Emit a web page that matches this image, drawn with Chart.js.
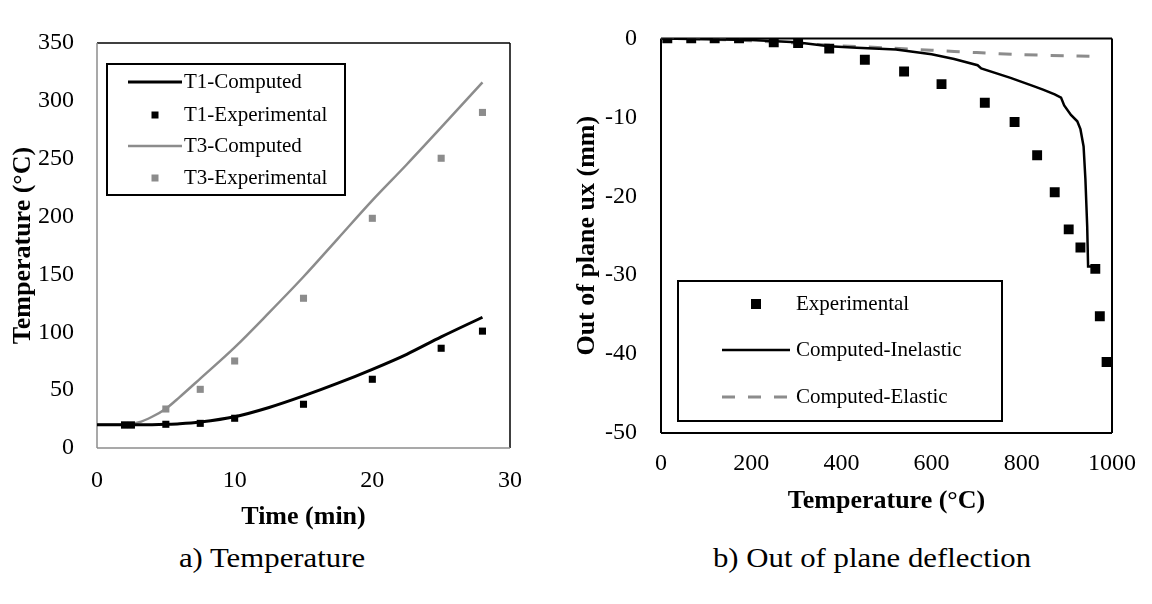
<!DOCTYPE html>
<html>
<head>
<meta charset="utf-8">
<script src="https://cdn.jsdelivr.net/npm/chart.js@4.4.0/dist/chart.umd.min.js"></script>
<style>
  body { margin: 0; background: #fff; width: 1152px; height: 604px; position: relative; overflow: hidden; }
  canvas { position: absolute; top: 0; }
  .cap { position: absolute; top: 542px; font: 28px "Liberation Serif", serif; color: #000; transform: translateX(-50%) scaleX(1.1); white-space: nowrap; }
</style>
</head>
<body>
<canvas id="left" width="560" height="540" style="left:0"></canvas>
<canvas id="right" width="592" height="540" style="left:560px"></canvas>
<div class="cap" style="left:272px">a) Temperature</div>
<div class="cap" style="left:872px">b) Out of plane deflection</div>
<script>
// a) temperature vs time
const timeComputed = [0, 2, 3, 4, 5, 6, 7.5, 10, 12.5, 15, 17.5, 20, 22.5, 25, 28];
const t1Computed = [20, 20, 20, 20.2, 20.5, 21, 22.5, 27, 35, 45, 56, 68, 81, 96, 113];
const t3Computed = [20, 20, 22, 27, 34, 44, 60, 87, 117, 148, 181, 214, 245, 277, 316];
const timeExp = [2, 2.5, 5, 7.5, 10, 15, 20, 25, 28];
const t1Exp = [20, 20, 20.5, 21.3, 25.7, 37.8, 59.4, 86.2, 101];
const t3Exp = [19.5, 19.5, 33.7, 50.7, 75.2, 129.4, 198.5, 250.4, 290];

// b) out of plane deflection vs temperature
const tempExp = [14, 67, 119, 173, 250, 304, 373, 452, 539, 622, 718, 784, 834, 873, 904, 930, 963, 973, 988];
const uxExp = [0, 0, 0, 0, -0.5, -0.6, -1.3, -2.7, -4.2, -5.8, -8.15, -10.6, -14.8, -19.5, -24.2, -26.5, -29.2, -35.2, -41];
const tempInelastic = [0, 100, 200, 300, 373, 434, 521, 600, 650, 702, 710, 775, 826, 847, 873, 887, 894, 909, 923, 930, 937, 941, 945, 947, 956];
const uxInelastic = [0, -0.1, -0.2, -0.5, -1.0, -1.2, -1.4, -2.0, -2.6, -3.4, -3.8, -5.0, -6.05, -6.5, -7.1, -7.5, -8.5, -9.7, -10.5, -11.5, -13.7, -17.8, -23.8, -28.9, -28.9];
const tempElastic = [0, 100, 200, 300, 400, 500, 600, 700, 800, 900, 950];
const uxElastic = [0, -0.1, -0.3, -0.6, -0.95, -1.2, -1.5, -1.8, -2.05, -2.2, -2.25];

const GREY = "#8c8c8c";
Chart.defaults.font.family = "'Liberation Serif', 'Times New Roman', serif";
Chart.defaults.color = "#000";

const pts = (xs, ys) => xs.map((x, i) => ({ x: x, y: ys[i] }));
const plain = v => String(v);

// plot frame, one colour per side
const frameBox = {
  id: "frameBox",
  beforeDatasetsDraw(chart, args, opts) {
    const a = chart.chartArea, ctx = chart.ctx;
    const sides = [
      [a.left, a.top, a.right, a.top, opts.top],
      [a.right, a.top, a.right, a.bottom, opts.right],
      [a.left, a.bottom, a.right, a.bottom, opts.bottom],
      [a.left, a.top, a.left, a.bottom, opts.left],
    ];
    ctx.save();
    ctx.lineWidth = opts.width;
    sides.forEach(s => {
      ctx.strokeStyle = s[4];
      ctx.beginPath();
      ctx.moveTo(s[0], s[1]);
      ctx.lineTo(s[2], s[3]);
      ctx.stroke();
    });
    ctx.restore();
  }
};

// boxed legend inside the plot
const boxLegend = {
  id: "boxLegend",
  afterDraw(chart, args, opts) {
    const ctx = chart.ctx;
    ctx.save();
    ctx.fillStyle = "#fff";
    ctx.fillRect(opts.x, opts.y, opts.w, opts.h);
    ctx.strokeStyle = "#000";
    ctx.lineWidth = 2;
    ctx.strokeRect(opts.x, opts.y, opts.w, opts.h);
    ctx.font = opts.font;
    ctx.textBaseline = "middle";
    chart.data.datasets.forEach((ds, i) => {
      const y = opts.rows[i];
      if (ds.showLine) {
        ctx.strokeStyle = ds.borderColor;
        ctx.lineWidth = ds.borderWidth;
        ctx.setLineDash(ds.borderDash || []);
        ctx.beginPath();
        ctx.moveTo(opts.lineX0, y);
        ctx.lineTo(opts.lineX1, y);
        ctx.stroke();
        ctx.setLineDash([]);
      } else {
        const s = opts.mark;
        ctx.fillStyle = ds.backgroundColor;
        ctx.fillRect((opts.lineX0 + opts.lineX1) / 2 - s / 2, y - s / 2, s, s);
      }
      ctx.fillStyle = "#000";
      ctx.fillText(ds.label, opts.textX, y);
    });
    ctx.restore();
  }
};

new Chart(document.getElementById("left"), {
  type: "scatter",
  data: {
    datasets: [
      { label: "T1-Computed", data: pts(timeComputed, t1Computed), showLine: true, borderColor: "#000", borderWidth: 3, pointRadius: 0, cubicInterpolationMode: "monotone" },
      { label: "T1-Experimental", data: pts(timeExp, t1Exp), showLine: false, backgroundColor: "#000", borderWidth: 0, pointStyle: "rect", pointRadius: 5 },
      { label: "T3-Computed", data: pts(timeComputed, t3Computed), showLine: true, borderColor: GREY, borderWidth: 2.5, pointRadius: 0, cubicInterpolationMode: "monotone" },
      { label: "T3-Experimental", data: pts(timeExp, t3Exp), showLine: false, backgroundColor: GREY, borderWidth: 0, pointStyle: "rect", pointRadius: 5 },
    ],
  },
  options: {
    responsive: false,
    animation: false,
    layout: { padding: { top: 43, right: 50, left: 0, bottom: 0 } },
    plugins: {
      legend: { display: false },
      tooltip: { enabled: false },
      frameBox: { width: 1.5, top: "#000", right: "#000", bottom: GREY, left: GREY },
      boxLegend: { x: 107, y: 64, w: 238, h: 131, rows: [82, 115, 146, 178], lineX0: 128, lineX1: 182, textX: 184, mark: 7, font: "21px 'Liberation Serif'" },
    },
    scales: {
      x: {
        type: "linear", min: 0, max: 30,
        grid: { display: false, drawTicks: false }, border: { display: false },
        ticks: { stepSize: 10, padding: 18, font: { size: 24 }, callback: plain },
        title: { display: true, text: "Time (min)", font: { size: 26, weight: "bold" }, padding: { top: 0, bottom: 7 } },
        afterFit: s => { s.height = 92; },
      },
      y: {
        min: 0, max: 350,
        grid: { display: false, drawTicks: false }, border: { display: false },
        ticks: { stepSize: 50, padding: 23, font: { size: 24 }, callback: plain },
        title: { display: true, text: "Temperature (°C)", font: { size: 26, weight: "bold" }, padding: { top: 8, bottom: 0 } },
        afterFit: s => { s.width = 97; },
      },
    },
  },
  plugins: [frameBox, boxLegend],
});

new Chart(document.getElementById("right"), {
  type: "scatter",
  data: {
    datasets: [
      { label: "Experimental", data: pts(tempExp, uxExp), showLine: false, backgroundColor: "#000", borderWidth: 0, pointStyle: "rect", pointRadius: 7 },
      { label: "Computed-Inelastic", data: pts(tempInelastic, uxInelastic), showLine: true, borderColor: "#000", borderWidth: 2.5, pointRadius: 0, tension: 0 },
      { label: "Computed-Elastic", data: pts(tempElastic, uxElastic), showLine: true, borderColor: GREY, borderWidth: 3, borderDash: [13, 13], pointRadius: 0, tension: 0.3 },
    ],
  },
  options: {
    responsive: false,
    animation: false,
    layout: { padding: { top: 20, right: 32, left: 0, bottom: 0 } },
    plugins: {
      legend: { display: false },
      tooltip: { enabled: false },
      frameBox: { width: 2, top: "#000", right: "#000", bottom: "#000", left: "#000" },
      boxLegend: { x: 118, y: 281, w: 324, h: 140, rows: [304, 350, 397], lineX0: 162, lineX1: 230, textX: 236, mark: 10, font: "21px 'Liberation Serif'" },
    },
    scales: {
      x: {
        type: "linear", min: 0, max: 1000,
        grid: { display: false, drawTicks: false }, border: { display: false },
        ticks: { stepSize: 200, padding: 16, font: { size: 24 }, callback: plain },
        title: { display: true, text: "Temperature (°C)", font: { size: 26, weight: "bold" }, padding: { top: 0, bottom: 23 } },
        afterFit: s => { s.height = 107; },
      },
      y: {
        min: -50, max: 0,
        grid: { display: false, drawTicks: false }, border: { display: false },
        ticks: { stepSize: 10, padding: 24, font: { size: 24 }, callback: plain },
        title: { display: true, text: "Out of plane ux (mm)", font: { size: 26, weight: "bold" }, padding: { top: 12, bottom: 0 } },
        afterFit: s => { s.width = 101; },
      },
    },
  },
  plugins: [frameBox, boxLegend],
});
</script>
</body>
</html>
